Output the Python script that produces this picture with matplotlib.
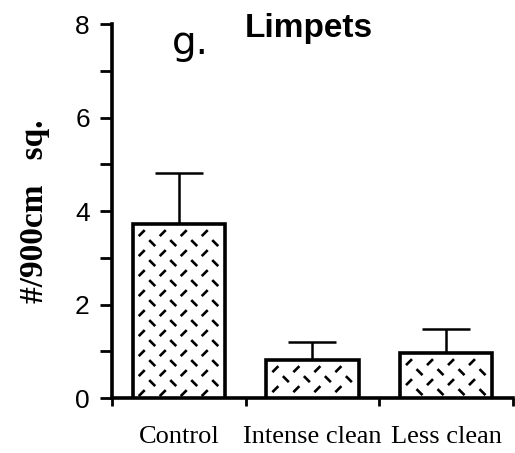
import matplotlib.pyplot as plt
import numpy as np
from matplotlib.collections import LineCollection

# data
groups = ['Control', 'Intense clean', 'Less clean']
means = [3.72, 0.81, 0.96]
errs = [1.09, 0.39, 0.52]

fig = plt.figure(figsize=(5.15, 4.53), dpi=100)
ax = fig.add_axes([0.2175, 0.1214, 0.7785, 0.8256])
ax.set_xlim(-0.5, 2.5)
ax.set_ylim(0, 8)

x = np.arange(len(groups))
bw = 0.69
bars = ax.bar(x, means, width=bw, color='white', edgecolor='black', linewidth=2.6, zorder=3)
ax.errorbar(x, means, yerr=[np.zeros(len(errs)), errs], fmt='none', ecolor='black',
            elinewidth=1.8, capsize=17, capthick=1.8, zorder=2)

# dashed diagonal fill, drawn in pixel space and mapped back to data
inv = ax.transData.inverted()
for b in bars:
    x0, y0 = ax.transData.transform((b.get_x(), 0))
    x1, y1 = ax.transData.transform((b.get_x() + b.get_width(), b.get_height()))
    segs = []
    row = 0
    yy = y1 - 9
    while yy > y0 + 4:
        off = 0 if row % 2 == 0 else 10.5
        sgn = 1 if row % 2 == 0 else -1
        xx = x0 + 9 + off
        while xx < x1 - 4:
            p = [(xx - 3, yy - 3 * sgn), (xx + 3, yy + 3 * sgn)]
            segs.append(inv.transform(p))
            xx += 21
        yy -= 10
        row += 1
    ax.add_collection(LineCollection(segs, colors='black', linewidths=1.9, zorder=4))

for s in ['top', 'right']:
    ax.spines[s].set_visible(False)
for s in ['left', 'bottom']:
    ax.spines[s].set_linewidth(2.6)

ax.set_yticks(range(0, 9))
ax.set_yticklabels(['0', '', '2', '', '4', '', '6', '', '8'],
                   fontsize=19, family='Liberation Sans')
ax.tick_params(axis='y', length=9, width=2, pad=7)

ax.set_xticks([-0.5, 0.5, 1.5, 2.5])
ax.set_xticklabels([])
ax.tick_params(axis='x', length=6, width=2, direction='out')
for i, g in enumerate(groups):
    ax.text(i, -0.83, g, ha='center', va='center', fontsize=19,
            family='Liberation Serif', transform=ax.transData)

ax.set_ylabel('#/900cm   sq.', fontsize=24, family='Liberation Serif',
              fontweight='bold', labelpad=18)

fig.text(0.6, 0.937, 'Limpets', fontsize=24, fontweight='bold',
         family='Liberation Sans', ha='center', va='center')
fig.text(0.37, 0.905, 'g.', fontsize=28, family='DejaVu Sans',
         ha='center', va='center')

fig.savefig('out.png', dpi=100)
